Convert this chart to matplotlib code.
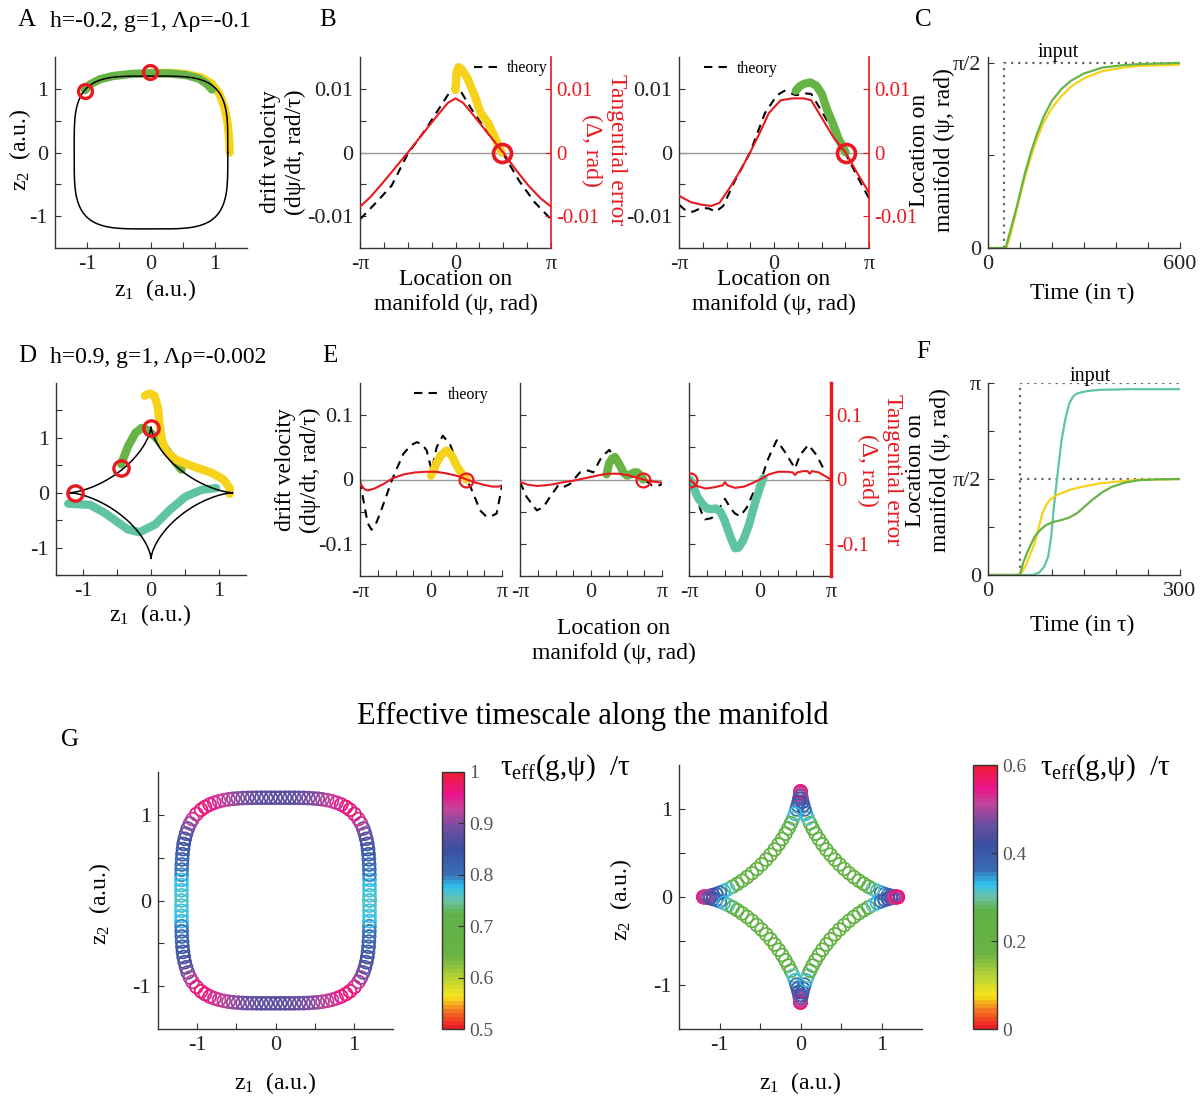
import numpy as np
import matplotlib
matplotlib.use('Agg')
import matplotlib.pyplot as plt
from matplotlib.colors import LinearSegmentedColormap, Normalize
from matplotlib.cm import ScalarMappable

plt.rcParams['font.family'] = ['Liberation Serif', 'DejaVu Serif']
plt.rcParams['mathtext.fontset'] = 'custom'
plt.rcParams['mathtext.rm'] = 'Liberation Serif'
plt.rcParams['mathtext.it'] = 'Liberation Serif:italic'
plt.rcParams['axes.unicode_minus'] = False

pi = np.pi

# ---------------- data ----------------
# rounded-square manifold, first quadrant (z1, z2) and tau_eff along it
sq_x = [1.2, 1.2, 1.2, 1.2, 1.2, 1.199, 1.198, 1.196, 1.192, 1.188, 1.181, 1.172,
        1.159, 1.142, 1.120, 1.091, 1.059, 1.009, 0.95, 0.90, 0.84, 0.78, 0.72,
        0.66, 0.60, 0.54, 0.48, 0.42, 0.36, 0.30, 0.24, 0.18, 0.12, 0.06, 0.0]
sq_y = [0.0, 0.06, 0.12, 0.18, 0.24, 0.30, 0.36, 0.42, 0.48, 0.54, 0.60, 0.66,
        0.72, 0.78, 0.84, 0.90, 0.95, 1.009, 1.059, 1.091, 1.120, 1.142, 1.159,
        1.172, 1.181, 1.188, 1.192, 1.196, 1.198, 1.199, 1.2, 1.2, 1.2, 1.2, 1.2]
sq_tau = [0.76, 0.762, 0.766, 0.772, 0.78, 0.79, 0.80, 0.81, 0.82, 0.83, 0.84, 0.85,
          0.86, 0.875, 0.89, 0.91, 0.93, 0.96, 0.97, 0.965, 0.955, 0.945, 0.935,
          0.925, 0.915, 0.905, 0.90, 0.895, 0.89, 0.885, 0.88, 0.875, 0.872, 0.87, 0.87]

# astroid manifold, first octant (from the cusp on z1 to the diagonal)
ast_x = [1.2, 1.1966, 1.1863, 1.1694, 1.1461, 1.1167, 1.0815, 1.0410, 0.9957, 0.9463,
         0.8933, 0.8375, 0.7794, 0.7199, 0.6596, 0.5992, 0.5394, 0.4809, 0.4243]
ast_y = [0.0, 0.0001, 0.0008, 0.0027, 0.0063, 0.0122, 0.0208, 0.0326, 0.0480, 0.0673,
         0.0906, 0.1181, 0.15, 0.1861, 0.2264, 0.2707, 0.3187, 0.3700, 0.4243]
ast_tau = [0.57, 0.56, 0.54, 0.51, 0.48, 0.45, 0.42, 0.39, 0.36, 0.33,
           0.30, 0.27, 0.25, 0.235, 0.225, 0.22, 0.215, 0.21, 0.21]

# panel A trajectories
a_green_x = [-1.03, -0.95, -0.8, -0.6, -0.3, 0.0, 0.3, 0.55, 0.75, 0.88, 0.95]
a_green_y = [0.98, 1.07, 1.15, 1.2, 1.235, 1.245, 1.24, 1.215, 1.16, 1.07, 0.99]
a_yel_x = [0.0, 0.3, 0.55, 0.78, 0.95, 1.07, 1.15, 1.2, 1.22, 1.23]
a_yel_y = [1.25, 1.25, 1.23, 1.18, 1.08, 0.92, 0.7, 0.45, 0.2, 0.0]
a_circ_x = [-1.03, -0.02]
a_circ_y = [0.97, 1.26]

# panel B, left
b1_th_psi = [-pi, -2.6, -2.1, -1.57, -1.0, -0.5, -0.15, 0.0, 0.15, 0.5, 1.0, 1.57, 2.1, 2.6, pi]
b1_th = [-0.0105, -0.0078, -0.0052, -0.0002, 0.0035, 0.0072, 0.0098, 0.0106, 0.0098,
         0.0070, 0.0035, -0.0002, -0.0045, -0.0078, -0.0105]
b1_err_psi = [-pi, -2.8, -2.4, -2.0, -1.57, -1.1, -0.6, -0.25, 0.0, 0.25, 0.6, 1.1, 1.57,
              2.0, 2.4, 2.8, pi]
b1_err = [-0.0085, -0.007, -0.0048, -0.0025, 0.0, 0.0028, 0.0058, 0.0078, 0.0085, 0.0078,
          0.0058, 0.0028, 0.0, -0.0028, -0.0052, -0.0072, -0.0085]
b1_traj_psi = [0.0, 0.03, 0.1, 0.2, 0.39, 0.64, 0.83, 1.08, 1.33, 1.52]
b1_traj = [0.0098, 0.0125, 0.0134, 0.0131, 0.0117, 0.0088, 0.0062, 0.0046, 0.002, 0.0]
b1_fix = 1.52

# panel B, right
b2_th_psi = [-pi, -2.9, -2.68, -2.4, -2.15, -1.93, -1.68, -1.3, -0.79, -0.3, 0.1, 0.35,
             0.72, 1.0, 1.23, 1.61, 1.99, 2.37, 2.75, pi]
b2_th = [-0.0082, -0.0092, -0.0093, -0.0087, -0.0088, -0.0093, -0.0084, -0.0045, 0.0,
         0.0062, 0.009, 0.0097, 0.009, 0.0093, 0.0092, 0.0062, 0.0031, -0.0002, -0.0037, -0.0072]
b2_err_psi = [-pi, -2.75, -2.4, -2.07, -1.8, -1.43, -1.1, -0.79, -0.45, -0.17, 0.22, 0.6,
              0.99, 1.23, 1.61, 1.99, 2.37, 2.75, pi]
b2_err = [-0.0068, -0.0078, -0.0082, -0.0084, -0.0079, -0.0053, -0.0027, 0.0, 0.0033,
          0.0062, 0.0082, 0.0085, 0.0085, 0.0082, 0.0052, 0.0022, 0.0, -0.0032, -0.0063]
b2_traj_psi = [0.72, 0.85, 1.0, 1.2, 1.4, 1.58, 1.75, 1.95, 2.15, 2.37]
b2_traj = [0.0097, 0.0104, 0.0108, 0.011, 0.0105, 0.0092, 0.0068, 0.0045, 0.002, 0.0]
b2_fix = 2.37

# panel C
c_in_t = [50, 50, 600]
c_in_v = [0, pi / 2, pi / 2]
c_green_t = [0, 50, 55, 70, 90, 115, 135, 152, 175, 200, 230, 260, 300, 357, 420, 478, 540, 600]
c_green = [0, 0, 0, 0.15, 0.35, 0.63, 0.82, 0.96, 1.12, 1.25, 1.35, 1.42, 1.48, 1.53,
           1.55, 1.56, 1.565, 1.57]
c_yel_t = [0, 50, 58, 72, 90, 115, 135, 152, 175, 200, 230, 260, 300, 357, 420, 478, 540, 600]
c_yel = [0, 0, 0, 0.13, 0.33, 0.6, 0.78, 0.92, 1.07, 1.19, 1.29, 1.37, 1.44, 1.5,
         1.53, 1.545, 1.55, 1.555]

# panel D trajectories
d_yel_x = [-0.09, -0.02, 0.05, 0.1, 0.125, 0.16, 0.23, 0.37, 0.62, 0.9, 1.07, 1.16, 1.16]
d_yel_y = [1.77, 1.81, 1.77, 1.57, 1.27, 0.96, 0.75, 0.6, 0.48, 0.36, 0.24, 0.085, -0.02]
d_green_x = [-0.44, -0.34, -0.23, -0.14, -0.06, 0.06, 0.23, 0.37, 0.45]
d_green_y = [0.52, 0.84, 1.09, 1.18, 1.15, 1.02, 0.78, 0.54, 0.42]
d_teal_x = [-1.22, -0.9, -0.68, -0.51, -0.34, -0.17, 0.06, 0.28, 0.51, 0.74, 0.96]
d_teal_y = [-0.2, -0.22, -0.37, -0.52, -0.67, -0.72, -0.58, -0.31, -0.07, 0.05, 0.085]
d_circ_x = [-1.12, -0.44, 0.0]
d_circ_y = [0.0, 0.45, 1.18]

# panel E (three starting conditions)
e1_th_psi = [-pi, -2.95, -2.8, -2.63, -2.45, -2.26, -2.0, -1.74, -1.5, -1.22, -0.9, -0.63,
             -0.4, -0.19, 0.03, 0.25, 0.52, 0.84, 1.05, 1.28, 1.5, 1.73, 2.0, 2.17, 2.4,
             2.61, 2.9, 3.05, pi]
e1_th = [-0.002, -0.04, -0.068, -0.078, -0.07, -0.053, -0.028, -0.002, 0.018, 0.04, 0.053,
         0.058, 0.055, 0.045, 0.014, 0.05, 0.068, 0.055, 0.035, 0.014, 0.002, -0.01, -0.033,
         -0.048, -0.056, -0.058, -0.053, -0.027, -0.01]
e1_err_psi = [-3.1, -2.95, -2.8, -2.5, -2.1, -1.7, -1.2, -0.7, -0.2, 0.2, 0.6, 1.0, 1.3,
              1.57, 1.9, 2.3, 2.7, 3.0, pi]
e1_err = [-0.008, -0.015, -0.017, -0.014, -0.007, 0.002, 0.008, 0.011, 0.012, 0.012, 0.01,
          0.007, 0.004, 0.0, -0.004, -0.008, -0.011, -0.011, -0.009]
e1_traj_psi = [0.0, 0.1, 0.25, 0.45, 0.69, 0.92, 1.1, 1.25, 1.43, 1.58]
e1_traj = [0.006, 0.014, 0.026, 0.038, 0.045, 0.037, 0.024, 0.015, 0.006, 0.0]
e1_fix = 1.57

e2_th_psi = [-pi, -2.85, -2.4, -2.11, -1.81, -1.45, -1.23, -0.93, -0.49, -0.12, 0.1, 0.47,
             0.81, 1.14, 1.5, 1.87, 2.31, 2.69, 3.05, pi]
e2_th = [-0.004, -0.027, -0.048, -0.043, -0.027, -0.009, -0.012, -0.007, 0.011, 0.014,
         0.011, 0.035, 0.046, 0.029, 0.006, 0.009, 0.001, -0.009, -0.009, -0.006]
e2_err_psi = [-pi, -2.8, -2.4, -2.0, -1.6, -1.2, -0.8, -0.4, 0.0, 0.4, 0.8, 1.2, 1.6, 2.0,
              2.31, 2.7, pi]
e2_err = [-0.004, -0.008, -0.01, -0.009, -0.007, -0.004, -0.002, 0.001, 0.004, 0.007, 0.009,
          0.009, 0.007, 0.003, 0.0, -0.003, -0.005]
e2_traj_psi = [0.69, 0.8, 0.92, 1.06, 1.28, 1.45, 1.6, 1.75, 1.9, 2.05, 2.2, 2.31]
e2_traj = [0.008, 0.025, 0.032, 0.035, 0.022, 0.01, 0.006, 0.008, 0.011, 0.011, 0.006, 0.0]
e2_fix = 2.31

e3_th_psi = [-3.1, -2.95, -2.8, -2.6, -2.43, -2.14, -1.84, -1.55, -1.3, -1.1, -0.88, -0.59,
             -0.3, 0.07, 0.37, 0.74, 1.1, 1.55, 1.77, 2.14, 2.5, 2.88]
e3_th = [0.002, -0.015, -0.029, -0.05, -0.062, -0.06, -0.047, -0.03, -0.045, -0.053, -0.057,
         -0.044, -0.021, 0.002, 0.033, 0.061, 0.043, 0.017, 0.038, 0.054, 0.038, 0.012]
e3_err_psi = [-3.1, -2.8, -2.4, -2.0, -1.65, -1.55, -1.45, -1.1, -0.7, -0.3, 0.0, 0.4, 0.8,
              1.2, 1.45, 1.55, 1.65, 1.9, 2.1, 2.2, 2.3, 2.6, 2.9, pi]
e3_err = [0.0, -0.01, -0.014, -0.012, -0.009, -0.004, -0.009, -0.013, -0.011, -0.005, 0.0,
          0.008, 0.012, 0.012, 0.011, 0.007, 0.011, 0.013, 0.013, 0.009, 0.013, 0.011, 0.005, 0.0]
e3_traj_psi = [-3.1, -2.95, -2.75, -2.55, -2.35, -2.15, -1.95, -1.75, -1.55, -1.3, -1.1,
               -0.95, -0.75, -0.5, -0.25, 0.0, 0.15]
e3_traj = [0.0, -0.012, -0.028, -0.038, -0.045, -0.046, -0.045, -0.05, -0.065, -0.09, -0.107,
           -0.106, -0.095, -0.072, -0.04, -0.012, 0.002]
e3_fix = -3.08

# panel F
f_in_t = [50, 50, 300]
f_in_v = [0, pi, pi]
f_in2_t = [50, 300]
f_in2_v = [pi / 2, pi / 2]
f_teal_t = [0, 70, 80, 88, 94, 99, 103, 109, 115, 121, 127, 133, 139, 155, 175, 220, 300]
f_teal = [0, 0, 0.04, 0.14, 0.3, 0.65, 1.12, 1.68, 2.21, 2.56, 2.81, 2.92, 2.97, 3.01, 3.03,
          3.04, 3.04]
f_yel_t = [0, 50, 55, 60, 66, 73, 79, 85, 91, 97, 106, 115, 130, 145, 160, 175, 205, 235,
           270, 300]
f_yel = [0, 0, 0.08, 0.18, 0.34, 0.52, 0.77, 1.01, 1.15, 1.23, 1.3, 1.34, 1.4, 1.44, 1.47,
         1.5, 1.53, 1.56, 1.565, 1.57]
f_green_t = [0, 50, 55, 61, 67, 73, 82, 91, 103, 115, 127, 139, 151, 163, 178, 193, 213,
             235, 265, 300]
f_green = [0, 0, 0.2, 0.36, 0.5, 0.63, 0.74, 0.82, 0.87, 0.9, 0.94, 1.01, 1.12, 1.23, 1.35,
           1.44, 1.51, 1.55, 1.565, 1.57]

# colour map of tau_eff
cmap_pos = [0.0, 0.06, 0.12, 0.2, 0.28, 0.45, 0.5, 0.55, 0.6, 0.7, 0.78, 0.86, 0.92, 1.0]
cmap_col = ['#ed1c24', '#f36f21', '#f7e51b', '#b3d236', '#6ab344', '#5eb147', '#6cc3a6',
            '#2ec4f0', '#3a6fb5', '#3b4fa1', '#6b4ea0', '#c2449a', '#ec148c', '#ee1d36']

RED = '#e8191f'
YEL = '#f7d21a'
GRN = '#67b346'
TEAL = '#5ec4a1'
AX = '#333333'


def full_loop(qx, qy, qv):
    qx, qy, qv = np.asarray(qx), np.asarray(qy), np.asarray(qv)
    x = np.concatenate([qx, -qx[::-1][1:], -qx[1:], qx[::-1][1:]])
    y = np.concatenate([qy, qy[::-1][1:], -qy[1:], -qy[::-1][1:]])
    v = np.concatenate([qv, qv[::-1][1:], qv[1:], qv[::-1][1:]])
    return x, y, v


sq_lx, sq_ly, sq_lt = full_loop(sq_x, sq_y, sq_tau)
ast_qx = ast_x + ast_y[::-1][1:]
ast_qy = ast_y + ast_x[::-1][1:]
ast_qt = ast_tau + ast_tau[::-1][1:]
ast_lx, ast_ly, ast_lt = full_loop(ast_qx, ast_qy, ast_qt)

# ---------------- figure ----------------
fig = plt.figure(figsize=(12.04, 11.04), dpi=100)
W, H = 1204.0, 1104.0


def box(l, t, r, b):
    return fig.add_axes([l / W, 1 - b / H, (r - l) / W, (b - t) / H])


def put(x, y, s, **kw):
    kw.setdefault('ha', 'center')
    kw.setdefault('va', 'center')
    fig.text(x / W, 1 - y / H, s, **kw)


def style(ax, xt, xl, yt, yl):
    for s in ['top', 'right']:
        ax.spines[s].set_visible(False)
    for s in ['left', 'bottom']:
        ax.spines[s].set_color(AX)
        ax.spines[s].set_linewidth(1.0)
    ax.set_xticks(xt)
    ax.set_xticklabels(xl)
    ax.set_yticks(yt)
    ax.set_yticklabels(yl)
    ax.tick_params(direction='in', length=4, width=0.8, color=AX, labelsize=16,
                   labelcolor='#222222', pad=5)


def red_twin(ax, ylim, ticks, labels, lw=1.2):
    tw = ax.twinx()
    tw.set_ylim(ylim)
    for s in ['top', 'left', 'bottom']:
        tw.spines[s].set_visible(False)
    tw.spines['right'].set_color(RED)
    tw.spines['right'].set_linewidth(lw)
    tw.set_yticks(ticks)
    tw.set_yticklabels(labels)
    tw.tick_params(axis='y', direction='in', length=4, width=0.8, colors=RED,
                   labelsize=15, pad=4)
    return tw


def ring(ax, x, y, ms, mew):
    ax.plot(x, y, 'o', mfc='none', mec=RED, ms=ms, mew=mew, zorder=10)


z_ticks = [-1, -0.5, 0, 0.5, 1]
z_labels = ['-1', '', '0', '', '1']
psi_ticks = [k * pi / 4 for k in range(-4, 5)]
psi_labels = ['-π', '', '', '', '0', '', '', '', 'π']
sub1 = 'z$_\\mathregular{1}$  (a.u.)'
sub2 = 'z$_\\mathregular{2}$  (a.u.)'
loc_lab = 'Location on\nmanifold (ψ, rad)'
drift_lab = 'drift velocity\n(dψ/dt, rad/τ)'
err_lab = 'Tangential error\n(Δ, rad)'

# ---- A ----
ax = box(55, 57, 247, 248)
ax.plot(a_yel_x, a_yel_y, color=YEL, lw=6, solid_capstyle='round')
ax.plot(a_green_x, a_green_y, color=GRN, lw=6, solid_capstyle='round')
ax.plot(sq_lx, sq_ly, color='k', lw=1.1)
ring(ax, a_circ_x, a_circ_y, 10, 2.4)
ax.set_xlim(-1.5, 1.5)
ax.set_ylim(-1.5, 1.5)
style(ax, z_ticks, z_labels, z_ticks, z_labels)
put(27, 20, 'A', fontsize=18)
put(50, 22, 'h=-0.2, g=1, Λρ=-0.1', fontsize=17, ha='left')
put(155, 290, sub1, fontsize=17)
put(20, 150, sub2, fontsize=17, rotation=90)

# ---- B ----
b_sets = [
    (360, 551, b1_th_psi, b1_th, b1_err_psi, b1_err, b1_traj_psi, b1_traj, b1_fix, YEL),
    (679, 869, b2_th_psi, b2_th, b2_err_psi, b2_err, b2_traj_psi, b2_traj, b2_fix, GRN),
]
for i, (l, r, tp, tv, ep, ev, jp, jv, fx, col) in enumerate(b_sets):
    ax = box(l, 57, r, 248)
    ax.axhline(0, color='#999999', lw=1)
    ax.plot(tp, tv, color='k', lw=1.5, ls='--', dashes=(4, 3), label='theory')
    ax.plot(jp, jv, color=col, lw=6, solid_capstyle='round')
    ax.set_xlim(-pi, pi)
    ax.set_ylim(-0.015, 0.015)
    style(ax, psi_ticks, psi_labels, [-0.01, -0.005, 0, 0.005, 0.01],
          ['-0.01', '', '0', '', '0.01'])
    if i == 0:
        ax.legend(loc='upper right', frameon=False, fontsize=11.5, handlelength=1.6,
                  handletextpad=0.5, borderaxespad=0.1, borderpad=0.1)
    else:
        ax.legend(loc='upper left', bbox_to_anchor=(0.08, 1.03), frameon=False,
                  fontsize=11.5, handlelength=1.6, handletextpad=0.5, borderpad=0.1)
    tw = red_twin(ax, (-0.015, 0.015), [-0.01, 0, 0.01], ['-0.01', '0', '0.01'])
    tw.plot(ep, ev, color=RED, lw=1.5)
    ring(tw, [fx], [0], 13, 2.6)
    put((l + r) / 2, 292, loc_lab, fontsize=17)
put(328, 20, 'B', fontsize=18)
put(283, 152, drift_lab, fontsize=17, rotation=90)
put(604, 150, err_lab, fontsize=17, rotation=270, color=RED)

# ---- C ----
ax = box(988, 57, 1180, 248)
ax.plot(c_in_t, c_in_v, color='#666666', lw=1.6, ls=(0, (1, 2.2)))
ax.plot(c_yel_t, c_yel, color=YEL, lw=1.6)
ax.plot(c_green_t, c_green, color=GRN, lw=1.6)
ax.set_xlim(0, 600)
ax.set_ylim(0, 1.62)
style(ax, [0, 100, 200, 300, 400, 500, 600], ['0', '', '', '', '', '', '600'],
      [0, pi / 4, pi / 2], ['0', '', 'π/2'])
put(923, 20, 'C', fontsize=18)
put(1058, 53, 'input', fontsize=14.5)
put(1082, 293, 'Time (in τ)', fontsize=17)
put(932, 150, loc_lab, fontsize=17, rotation=90)

# ---- D ----
ax = box(56, 383, 246, 575)
ax.plot(d_teal_x, d_teal_y, color=TEAL, lw=6, solid_capstyle='round')
ax.plot(d_green_x, d_green_y, color=GRN, lw=6, solid_capstyle='round')
ax.plot(d_yel_x, d_yel_y, color=YEL, lw=6, solid_capstyle='round')
ax.plot(ast_lx, ast_ly, color='k', lw=1.1)
ring(ax, d_circ_x, d_circ_y, 11, 2.4)
ax.set_xlim(-1.4, 1.4)
ax.set_ylim(-1.5, 2.0)
style(ax, z_ticks, z_labels, [-1.5, -1, -0.5, 0, 0.5, 1, 1.5], ['', '-1', '', '0', '', '1', ''])
put(27, 356, 'D', fontsize=18)
put(50, 358, 'h=0.9, g=1, Λρ=-0.002', fontsize=17, ha='left')
put(150, 615, sub1, fontsize=17)

# ---- E ----
e_sets = [
    (360, 502, e1_th_psi, e1_th, e1_err_psi, e1_err, e1_traj_psi, e1_traj, e1_fix, YEL),
    (520, 662, e2_th_psi, e2_th, e2_err_psi, e2_err, e2_traj_psi, e2_traj, e2_fix, GRN),
    (689, 831, e3_th_psi, e3_th, e3_err_psi, e3_err, e3_traj_psi, e3_traj, e3_fix, TEAL),
]
for i, (l, r, tp, tv, ep, ev, jp, jv, fx, col) in enumerate(e_sets):
    ax = box(l, 383, r, 576)
    ax.axhline(0, color='#999999', lw=1)
    ax.plot(tp, tv, color='k', lw=1.5, ls='--', dashes=(4, 3), label='theory')
    ax.plot(jp, jv, color=col, lw=6, solid_capstyle='round')
    ax.set_xlim(-pi, pi)
    ax.set_ylim(-0.15, 0.15)
    ylabs = ['-0.1', '', '0', '', '0.1'] if i == 0 else [''] * 5
    style(ax, psi_ticks, psi_labels, [-0.1, -0.05, 0, 0.05, 0.1], ylabs)
    if i == 0:
        ax.legend(loc='upper right', bbox_to_anchor=(0.97, 1.03), frameon=False,
                  fontsize=11.5, handlelength=1.6, handletextpad=0.5, borderpad=0.1)
    if i == 2:
        tw = red_twin(ax, (-0.15, 0.15), [-0.1, 0, 0.1], ['-0.1', '0', '0.1'], lw=2.5)
    else:
        tw = ax.twinx()
        tw.set_ylim(-0.15, 0.15)
        tw.axis('off')
    tw.plot(ep, ev, color=RED, lw=1.5)
    ring(tw, [fx], [0], 10, 1.6)
put(330, 356, 'E', fontsize=18)
put(298, 470, drift_lab, fontsize=17, rotation=90)
put(880, 470, err_lab, fontsize=17, rotation=270, color=RED)
put(614, 641, loc_lab, fontsize=17)

# ---- F ----
ax = box(988, 383, 1180, 575)
ax.plot(f_in_t, f_in_v, color='#666666', lw=1.6, ls=(0, (1, 2.2)))
ax.plot(f_in2_t, f_in2_v, color='#666666', lw=1.6, ls=(0, (1, 2.2)))
ax.plot(f_teal_t, f_teal, color=TEAL, lw=1.6)
ax.plot(f_yel_t, f_yel, color=YEL, lw=1.6)
ax.plot(f_green_t, f_green, color=GRN, lw=1.6)
ax.set_xlim(0, 300)
ax.set_ylim(0, pi)
style(ax, [0, 50, 100, 150, 200, 250, 300], ['0', '', '', '', '', '', '300'],
      [0, pi / 4, pi / 2, 3 * pi / 4, pi], ['0', '', 'π/2', '', 'π'])
put(923, 352, 'F', fontsize=18)
put(1090, 377, 'input', fontsize=14.5)
put(1082, 625, 'Time (in τ)', fontsize=17)
put(928, 470, loc_lab, fontsize=17, rotation=90)

# ---- G ----
cmap = LinearSegmentedColormap.from_list('teff', list(zip(cmap_pos, cmap_col)), N=64)
g_sets = [
    ((158, 772, 393, 1029), (442, 772, 464, 1029), sq_lx, sq_ly, sq_lt, (0.5, 1.0),
     [0.5, 0.6, 0.7, 0.8, 0.9, 1.0], ['0.5', '0.6', '0.7', '0.8', '0.9', '1'], 500),
    ((679, 765, 922, 1029), (973, 765, 997, 1029), ast_lx, ast_ly, ast_lt, (0.0, 0.6),
     [0, 0.2, 0.4, 0.6], ['0', '0.2', '0.4', '0.6'], 1040),
]
for rect, crect, gx, gy, gt, lim, cticks, clabs, lx in g_sets:
    ax = box(*rect)
    norm = Normalize(*lim)
    ax.scatter(gx, gy, s=85, facecolors='none', edgecolors=cmap(norm(gt)), linewidths=1.3)
    ax.set_xlim(-1.5, 1.5)
    ax.set_ylim(-1.5, 1.5)
    style(ax, z_ticks, z_labels, z_ticks, z_labels)
    cx = (rect[0] + rect[2]) / 2
    put(cx, 1083, sub1, fontsize=17)
    put(rect[0] - 58, (rect[1] + rect[3]) / 2 + 3, sub2, fontsize=17, rotation=90)
    cax = box(*crect)
    cb = fig.colorbar(ScalarMappable(norm=norm, cmap=cmap), cax=cax)
    cb.set_ticks(cticks)
    cb.set_ticklabels(clabs)
    cb.outline.set_edgecolor(AX)
    cb.outline.set_linewidth(1.0)
    cax.tick_params(direction='in', length=4, width=0.8, color=AX, labelsize=14,
                    labelcolor='#555555', pad=4)
    put(lx, 768, 'τ$_\\mathregular{eff}$(g,ψ)  /τ', fontsize=21, ha='left')
put(593, 716, 'Effective timescale along the manifold', fontsize=22)
put(70, 740, 'G', fontsize=18)

fig.savefig('out.png', dpi=100)
